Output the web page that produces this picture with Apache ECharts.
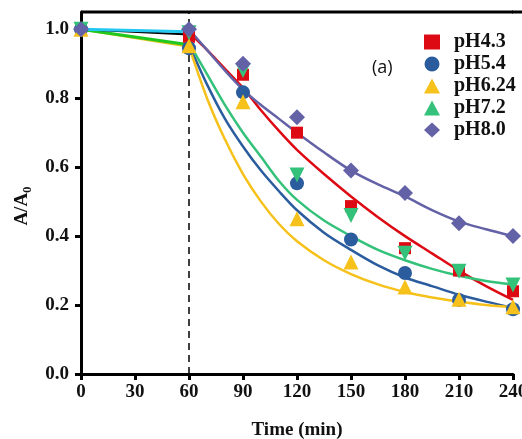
<!DOCTYPE html>
<html><head><meta charset="utf-8">
<script src="https://cdn.jsdelivr.net/npm/echarts@6/dist/echarts.min.js"></script>
<style>html,body{margin:0;padding:0;background:#fff}#c{width:522px;height:439px}</style>
</head><body><div id="c"></div>
<script>
// Measured points
var times = [0, 60, 90, 120, 150, 180, 210, 240];
var pH43 = [1.0, 0.978, 0.868, 0.70, 0.487, 0.365, 0.30, 0.24];
var pH54 = [1.0, 0.945, 0.817, 0.553, 0.39, 0.293, 0.215, 0.188];
var pH624 = [1.0, 0.952, 0.79, 0.45, 0.325, 0.252, 0.217, 0.195];
var pH72 = [1.0, 0.99, 0.88, 0.577, 0.46, 0.35, 0.298, 0.258];
var pH80 = [1.0, 1.0, 0.90, 0.745, 0.59, 0.525, 0.437, 0.40];
// Fitted curves
var fitT = [60, 70, 80, 90, 100, 110, 120, 135, 150, 165, 180, 195, 210, 225, 240];
var fit43 = [0.99, 0.94, 0.885, 0.83, 0.765, 0.705, 0.65, 0.58, 0.515, 0.455, 0.40, 0.35, 0.30, 0.255, 0.215];
var fit54 = [0.955, 0.84, 0.74, 0.66, 0.59, 0.53, 0.475, 0.41, 0.36, 0.315, 0.28, 0.255, 0.23, 0.21, 0.192];
var fit624 = [0.95, 0.80, 0.68, 0.58, 0.50, 0.435, 0.385, 0.33, 0.29, 0.26, 0.238, 0.222, 0.21, 0.20, 0.194];
var fit72 = [0.96, 0.87, 0.78, 0.70, 0.63, 0.56, 0.505, 0.445, 0.40, 0.36, 0.33, 0.305, 0.285, 0.27, 0.26];
var fit80 = [1.0, 0.94, 0.88, 0.825, 0.78, 0.74, 0.70, 0.643, 0.59, 0.55, 0.515, 0.475, 0.442, 0.42, 0.40];
// Initial segments 0-60
var segT = [0, 60];
var segCyan = [1.0, 0.993];
var segBlack = [1.0, 0.985];
var segGreen = [1.0, 0.955];
var segYellow = [1.0, 0.95];
var names = ['pH4.3', 'pH5.4', 'pH6.24', 'pH7.2', 'pH8.0'];
var yTop = 1.05;
var frameT = [0, 240];

var colors = ['#dd0a14', '#2b5c9e', '#f5c11a', '#34c27a', '#6462a6'];
var symbols = ['rect', 'circle', 'triangle', 'triangle', 'diamond'];
var sizes = [12, 14, 15, 15, 16];
var rot = [0, 0, 0, 180, 0];
var pts = [pH43, pH54, pH624, pH72, pH80];
var fits = [fit43, fit54, fit624, fit72, fit80];

function zip(xs, ys) { return xs.map(function (x, i) { return [x, ys[i]]; }); }

var serif = 'Liberation Serif';
var series = [];
// top frame line
series.push({ type: 'line', name: 'frameTop', data: zip(frameT, [yTop, yTop]), symbol: 'none', silent: true,
  clip: false, lineStyle: { color: '#000', width: 3 }, z: 6 });
var segs = [[segYellow, '#d9c21a', 2.5], [segGreen, '#1fc81f', 3], [segBlack, '#000000', 2], [segCyan, '#22c8f0', 3]];
segs.forEach(function (s, i) {
  series.push({ type: 'line', name: 'seg' + i, data: zip(segT, s[0]), symbol: 'none', silent: true,
    lineStyle: { color: s[1], width: s[2] }, z: 2 });
});
series.push({ type: 'line', name: 'vline', data: [], markLine: { silent: true, symbol: 'none',
  label: { show: false }, lineStyle: { color: '#000', type: [7, 5], width: 1.5 }, data: [{ xAxis: 60 }] } });
for (var i = 0; i < 5; i++) {
  series.push({ type: 'line', name: 'fit' + names[i], data: zip(fitT, fits[i]), smooth: 0.3,
    symbol: 'none', lineStyle: { color: colors[i], width: 2.5 }, z: 3 });
}
for (var i = 0; i < 5; i++) {
  series.push({ type: 'scatter', name: names[i], data: zip(times, pts[i]), symbol: symbols[i],
    symbolSize: sizes[i], symbolRotate: rot[i], itemStyle: { color: colors[i], opacity: 1 }, z: 5 });
}

var chart = echarts.init(document.getElementById('c'));
chart.setOption({
  animation: false,
  grid: { left: 81, top: 12, width: 432, height: 362, outerBoundsMode: 'none', containLabel: false },
  legend: { data: names, orient: 'vertical', left: 419, top: 27, itemGap: 2, itemWidth: 16, itemHeight: 15,
    textStyle: { fontFamily: serif, fontWeight: 'bold', fontSize: 20, color: '#111', padding: [0, 0, 0, 9] } },
  graphic: [
    { type: 'text', left: 372, top: 59, style: { text: '(a)', font: '18px "Open Sans"', fill: '#111' } },
    { type: 'line', shape: { x1: 512, y1: 12, x2: 522, y2: 12 }, style: { stroke: '#000', lineWidth: 3 } }
  ],
  xAxis: {
    type: 'value', min: 0, max: 240, interval: 30,
    name: 'Time (min)', nameLocation: 'middle', nameGap: 47,
    nameTextStyle: { fontFamily: serif, fontWeight: 'bold', fontSize: 19, color: '#111' },
    axisLine: { onZero: false, lineStyle: { color: '#000', width: 3 } },
    axisTick: { inside: false, length: 6, lineStyle: { width: 3, color: '#000' } },
    axisLabel: { margin: 9, fontFamily: serif, fontWeight: 'bold', fontSize: 19, color: '#111' },
    splitLine: { show: false }
  },
  yAxis: {
    type: 'value', min: 0, max: yTop, interval: 0.2,
    name: 'A/A{s|0}', nameLocation: 'middle', nameGap: 46, nameRotate: 90,
    nameTextStyle: { fontFamily: serif, fontWeight: 'bold', fontSize: 19, color: '#111', padding: [0, 26, 0, 0],
      rich: { s: { fontFamily: serif, fontWeight: 'bold', fontSize: 13, verticalAlign: 'bottom', padding: [12, 0, 0, 0] } } },
    axisLine: { onZero: false, lineStyle: { color: '#000', width: 3 } },
    axisTick: { length: 6, lineStyle: { width: 3, color: '#000' } },
    axisLabel: { margin: 12, fontFamily: serif, fontWeight: 'bold', fontSize: 19, color: '#111', showMaxLabel: false,
      formatter: function (v) { return Math.abs(v * 5 - Math.round(v * 5)) < 1e-6 ? v.toFixed(1) : ''; } },
    splitLine: { show: false }
  },
  series: series
});
</script></body></html>
